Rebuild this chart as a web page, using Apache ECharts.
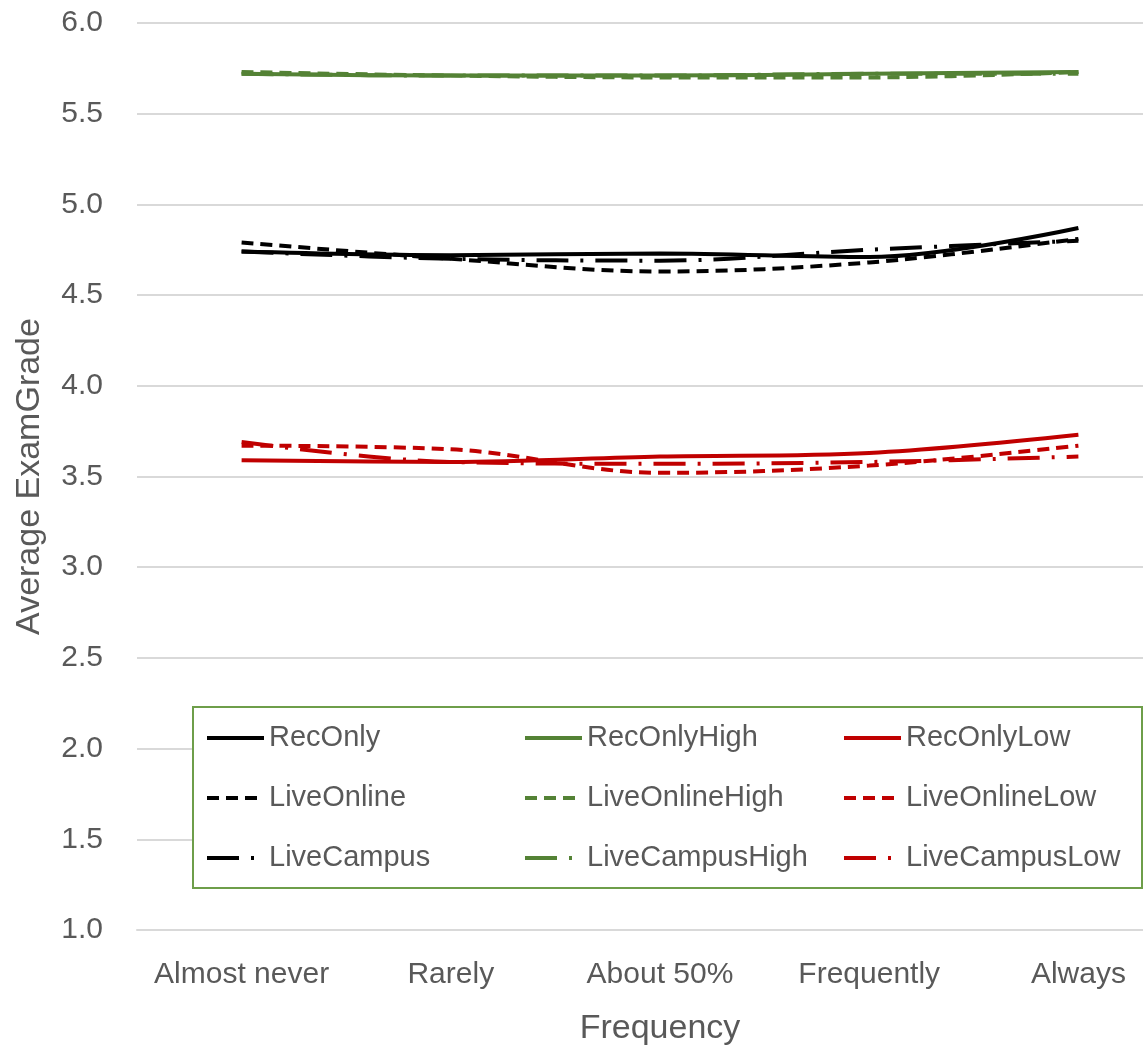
<!DOCTYPE html>
<html>
<head>
<meta charset="utf-8">
<script src="https://cdn.jsdelivr.net/npm/echarts@6/dist/echarts.min.js"></script>
<style>
html,body{margin:0;padding:0;background:#fff;}
#chart{width:1143px;height:1045px;}
</style>
</head>
<body>
<div id="chart"></div>
<script>
const categories = ['Almost never', 'Rarely', 'About 50%', 'Frequently', 'Always'];
const yTicks = [1.0, 1.5, 2.0, 2.5, 3.0, 3.5, 4.0, 4.5, 5.0, 5.5, 6.0];

const recOnly        = [4.74, 4.72, 4.73, 4.71, 4.87];
const liveOnline     = [4.79, 4.70, 4.63, 4.68, 4.81];
const liveCampus     = [4.74, 4.70, 4.69, 4.75, 4.80];
const recOnlyHigh    = [5.72, 5.71, 5.71, 5.72, 5.73];
const liveOnlineHigh = [5.73, 5.71, 5.70, 5.70, 5.73];
const liveCampusHigh = [5.72, 5.71, 5.71, 5.72, 5.72];
const recOnlyLow     = [3.59, 3.58, 3.61, 3.63, 3.73];
const liveOnlineLow  = [3.67, 3.65, 3.52, 3.56, 3.67];
const liveCampusLow  = [3.69, 3.58, 3.57, 3.58, 3.61];

const BLACK = '#000000', GREEN = '#548235', RED = '#C00000';
const TXT = '#595959';
const FONT = '"Liberation Sans", Arial, sans-serif';
const SOLID = 'solid', SHORT = [12, 7], LONGDOT = [32, 12, 3, 12];

function mk(name, data, color, type) {
  return {
    name: name, type: 'line', data: data, smooth: 0.35,
    symbol: 'none', showSymbol: false,
    lineStyle: { color: color, width: 4, type: type, cap: 'butt' },
    itemStyle: { color: color },
    emphasis: { disabled: true }, animation: false
  };
}

const series = [
  mk('RecOnly', recOnly, BLACK, SOLID),
  mk('LiveOnline', liveOnline, BLACK, SHORT),
  mk('LiveCampus', liveCampus, BLACK, LONGDOT),
  mk('RecOnlyHigh', recOnlyHigh, GREEN, SOLID),
  mk('LiveOnlineHigh', liveOnlineHigh, GREEN, SHORT),
  mk('LiveCampusHigh', liveCampusHigh, GREEN, LONGDOT),
  mk('RecOnlyLow', recOnlyLow, RED, SOLID),
  mk('LiveOnlineLow', liveOnlineLow, RED, SHORT),
  mk('LiveCampusLow', liveCampusLow, RED, LONGDOT)
];

function legendCol(left, names) {
  return {
    orient: 'vertical', left: left, top: 723, padding: 0,
    itemWidth: 57, itemHeight: 14, itemGap: 30,
    selectedMode: false,
    itemStyle: { opacity: 0 },
    lineStyle: { width: 4 },
    textStyle: { color: TXT, fontSize: 29, fontFamily: FONT, lineHeight: 30 },
    data: names, z: 10
  };
}

const chart = echarts.init(document.getElementById('chart'), null, { renderer: 'canvas' });
chart.setOption({
  animation: false,
  backgroundColor: '#ffffff',
  grid: { left: 137, top: 23, width: 1046, height: 907, outerBoundsMode: 'none', containLabel: false },
  xAxis: {
    type: 'category', data: categories, boundaryGap: true,
    name: 'Frequency', nameLocation: 'middle', nameGap: 82,
    nameTextStyle: { color: TXT, fontSize: 34, fontFamily: FONT },
    axisLine: { show: true, lineStyle: { color: '#d9d9d9', width: 2 } },
    axisTick: { show: false },
    axisLabel: { color: TXT, fontSize: 30, fontFamily: FONT, margin: 30, interval: 0 }
  },
  yAxis: {
    type: 'value', min: yTicks[0], max: yTicks[yTicks.length - 1], interval: 0.5,
    name: 'Average ExamGrade', nameLocation: 'middle', nameGap: 90,
    nameTextStyle: { color: TXT, fontSize: 34, fontFamily: FONT },
    axisLine: { show: false }, axisTick: { show: false },
    axisLabel: { color: TXT, fontSize: 30, fontFamily: FONT, margin: 34,
      formatter: v => v.toFixed(1) },
    splitLine: { show: true, lineStyle: { color: '#d9d9d9', width: 2 } }
  },
  legend: [
    legendCol(205, ['RecOnly', 'LiveOnline', 'LiveCampus']),
    legendCol(523, ['RecOnlyHigh', 'LiveOnlineHigh', 'LiveCampusHigh']),
    legendCol(842, ['RecOnlyLow', 'LiveOnlineLow', 'LiveCampusLow'])
  ],
  graphic: [{
    type: 'rect', z: 5, silent: true,
    shape: { x: 193, y: 707, width: 949, height: 181 },
    style: { fill: '#ffffff', stroke: '#6E9E4A', lineWidth: 2 }
  }],
  series: series
});
</script>
</body>
</html>
